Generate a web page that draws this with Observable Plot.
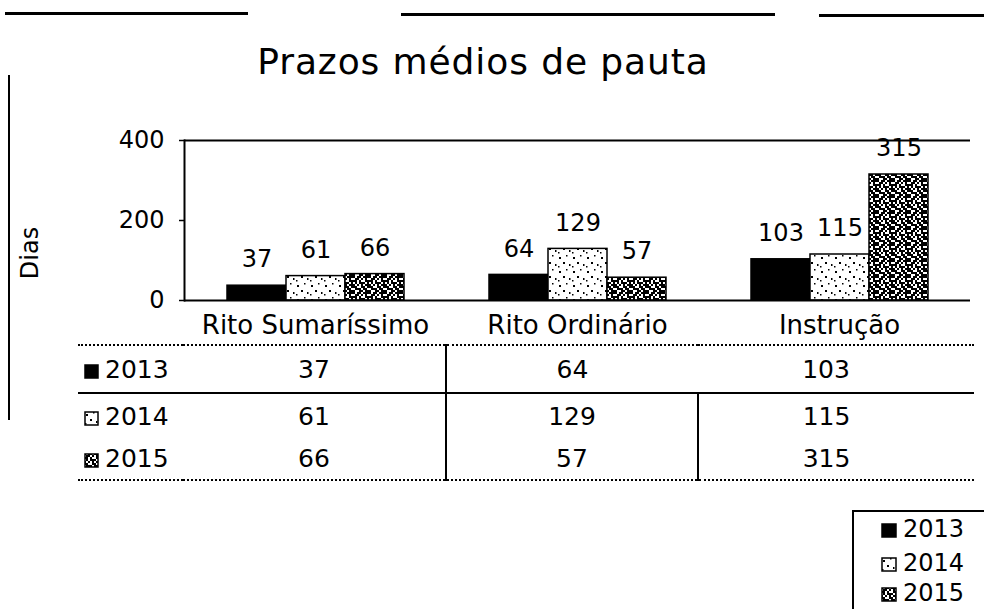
<!DOCTYPE html>
<html>
<head>
<meta charset="utf-8">
<script src="https://cdn.jsdelivr.net/npm/d3@7"></script>
<script src="https://cdn.jsdelivr.net/npm/@observablehq/plot@0.6"></script>
<style>
  html, body { margin: 0; padding: 0; background: #fff; }
  #page { position: relative; width: 984px; height: 609px; overflow: hidden;
          font-family: "DejaVu Sans", sans-serif; color: #000; }
  .deco { position: absolute; background: #000; }
  #title { position: absolute; left: -9px; width: 984px; top: 38px; text-align: center;
           font-size: 36px; letter-spacing: 0.9px; line-height: 48px; }
  #ylabel { position: absolute; left: 30px; top: 253px; transform: translate(-50%, -50%) rotate(-90deg);
            font-size: 24px; line-height: 24px; }
  #chart { position: absolute; left: 0; top: 100px; }
  #table { position: absolute; left: 78px; top: 344px; border-collapse: collapse; font-size: 25px; }
  #table td { padding: 0; text-align: center; vertical-align: middle; white-space: nowrap; }
  #table td.lab { text-align: left; padding-left: 6px; }
  #table tr.r0 td { border-top: 2px dotted #000; height: 46px; }
  #table tr.r1 td { border-top: 2px solid #000; height: 44px; }
  #table tr.r2 td { border-bottom: 2px dotted #000; height: 41px; }
  .sw { display: inline-block; vertical-align: -1px; margin-right: 6px; }
  #legend { position: absolute; left: 852px; top: 510px; width: 140px; height: 110px;
            border-left: 2px solid #000; border-top: 2px solid #000; font-size: 24px; }
  #legend div { position: absolute; left: 27px; line-height: 28px; white-space: nowrap; }
</style>
</head>
<body>
<svg width="0" height="0" style="position:absolute">
  <defs>
    <pattern id="p2014" patternUnits="userSpaceOnUse" width="14" height="14">
      <rect width="14" height="14" fill="#fff"></rect>
      <rect x="2" y="3" width="2" height="2" fill="#000"></rect>
      <rect x="9" y="1" width="1.5" height="1.5" fill="#000"></rect>
      <rect x="6" y="8" width="2" height="2" fill="#000"></rect>
      <rect x="12" y="10" width="1.5" height="2" fill="#000"></rect>
      <rect x="1" y="12" width="1.5" height="1.5" fill="#000"></rect>
    </pattern>
    <pattern id="p2015" patternUnits="userSpaceOnUse" width="16" height="16"></pattern>
  </defs>
</svg>
<div id="page">
  <div class="deco" style="left:5px;top:12px;width:243px;height:3px"></div>
  <div class="deco" style="left:401px;top:13px;width:374px;height:3px"></div>
  <div class="deco" style="left:819px;top:14px;width:165px;height:3px"></div>
  <div class="deco" style="left:8px;top:75px;width:2px;height:345px"></div>
  <div id="title"></div>
  <div id="ylabel"></div>
  <div id="chart"></div>
  <table id="table"></table>
  <div id="legend"></div>
</div>
<script>
// ---- data ----
const categories = ["Rito Sumaríssimo", "Rito Ordinário", "Instrução"];
const years = ["2013", "2014", "2015"];
const values2013 = [37, 64, 103];
const values2014 = [61, 129, 115];
const values2015 = [66, 57, 315];
const yTicks = [0, 200, 400];
const yDomain = [0, 400];
const title = "Prazos médios de pauta";
const yLabel = "Dias";

document.getElementById("title").textContent = title;
document.getElementById("ylabel").textContent = yLabel;

const seriesValues = [values2013, values2014, values2015];
const fills = ["#000", "url(#p2014)", "url(#p2015)"];

// dense speckle pattern for 2015
const noise = ["10110111", "01101010", "11010011", "01011101", "10101011", "11001101", "01110110", "10011011"];
const p15 = d3.select("#p2015");
p15.append("rect").attr("width", 16).attr("height", 16).attr("fill", "#fff");
noise.forEach((row, r) => row.split("").forEach((c, k) => {
  if (c === "1") p15.append("rect").attr("x", k * 2).attr("y", r * 2).attr("width", 2).attr("height", 2).attr("fill", "#000");
}));

const data = categories.flatMap((c, i) => years.map((y, j) => ({category: c, year: y, value: seriesValues[j][i]})));

const chart = Plot.plot({
  width: 984,
  height: 250,
  marginTop: 40,
  marginBottom: 50,
  marginLeft: 183,
  marginRight: 14,
  style: {fontFamily: "DejaVu Sans, sans-serif", fontSize: "24px", color: "#000", background: "transparent", overflow: "visible"},
  fx: {domain: categories, padding: 0, label: null},
  x: {domain: years, paddingInner: 0, paddingOuter: 0.71, axis: null},
  y: {domain: yDomain, label: null},
  color: {domain: years, range: fills},
  marks: [
    Plot.barY(data, {fx: "category", x: "year", y: "value", fill: "year", stroke: "#000", strokeWidth: 1.5}),
    Plot.text(data, {fx: "category", x: "year", y: "value", text: d => String(d.value), dy: -26, fontSize: 24, fill: "#000"}),
    Plot.ruleY([0, 400], {stroke: "#000", strokeWidth: 2}),
    Plot.frame({facet: "super", anchor: "left", stroke: "#000", strokeWidth: 2}),
    Plot.axisY({ticks: yTicks, tickSize: 5, tickPadding: 15, fontSize: 24, label: null, strokeWidth: 1.5}),
    Plot.axisFx({anchor: "bottom", tickSize: 0, tickPadding: 15, fontSize: 26, label: null})
  ]
});
document.getElementById("chart").appendChild(chart);

// ---- swatch helper ----
function swatch(i, w, h) {
  return `<svg class="sw" width="${w}" height="${h}"><rect x="1" y="1" width="${w - 2}" height="${h - 2}" fill="${fills[i]}" stroke="#000" stroke-width="1.5"></rect></svg>`;
}

// ---- data table ----
const colWidths = [105, 262, 250, 275];
let html = "";
years.forEach((y, j) => {
  html += `<tr class="r${j}"><td class="lab" style="width:${colWidths[0] - 6}px">${swatch(j, 15, 15)}${y}</td>`;
  categories.forEach((c, i) => {
    let style = `width:${colWidths[i + 1]}px;`;
    if (i === 1) style += "border-left:2px solid #000;";
    if (i === 2) style += (j > 0 ? "border-left:2px solid #000;" : "") + "padding-right:20px;width:255px;";
    html += `<td style="${style}">${seriesValues[j][i]}</td>`;
  });
  html += "</tr>";
});
document.getElementById("table").innerHTML = html;

// ---- legend ----
const legendTops = [3, 37, 67];
document.getElementById("legend").innerHTML = years.map((y, j) =>
  `<div style="top:${legendTops[j]}px">${swatch(j, 16, 15)}${y}</div>`).join("");
</script>
</body>
</html>
